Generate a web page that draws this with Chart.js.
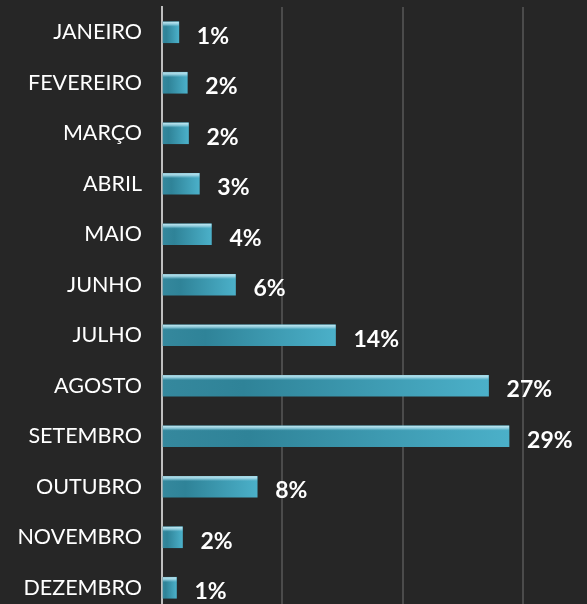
<!DOCTYPE html>
<html>
<head>
<meta charset="utf-8">
<script src="https://cdn.jsdelivr.net/npm/chart.js@4/dist/chart.umd.min.js"></script>
<style>
  html, body { margin: 0; padding: 0; background: #262626; overflow: hidden; }
  .chart { width: 587px; height: 614px; }
</style>
</head>
<body>
<div class="chart"><canvas id="c"></canvas></div>
<script>
const months = [
  "JANEIRO", "FEVEREIRO", "MARÇO", "ABRIL", "MAIO", "JUNHO",
  "JULHO", "AGOSTO", "SETEMBRO", "OUTUBRO", "NOVEMBRO", "DEZEMBRO",
]
const shares = [1.4, 2.1, 2.2, 3.1, 4.1, 6.1, 14.4, 27.1, 28.8, 7.9, 1.7, 1.2]
const xTicks = [0, 10, 20, 30]

const barGradient = (context) => {
  const chart = context.chart
  const xs = chart.scales.x
  if (!xs || context.parsed == null) return "#3b9ab2"
  const x0 = xs.getPixelForValue(0)
  const x1 = xs.getPixelForValue(context.parsed.x)
  if (!isFinite(x0) || !isFinite(x1) || x1 - x0 < 1) return "#3b9ab2"
  const g = chart.ctx.createLinearGradient(x0, 0, x1, 0)
  g.addColorStop(0, "#35889d")
  g.addColorStop(0.25, "#2f8398")
  g.addColorStop(1, "#4bb0c9")
  return g
}

// top highlight strip + value labels
const barExtras = {
  id: "barExtras",
  afterDatasetsDraw(chart) {
    const ctx = chart.ctx
    const meta = chart.getDatasetMeta(0)
    ctx.save()
    meta.data.forEach((bar, i) => {
      const top = bar.y - bar.height / 2
      const left = Math.min(bar.x, bar.base)
      const w = Math.abs(bar.x - bar.base)
      const hl = ctx.createLinearGradient(0, top, 0, top + 5)
      hl.addColorStop(0, "rgba(205,238,247,0.95)")
      hl.addColorStop(0.5, "rgba(160,215,230,0.8)")
      hl.addColorStop(1, "rgba(120,190,210,0)")
      ctx.fillStyle = hl
      ctx.fillRect(left, top, w, 5)

      ctx.fillStyle = "#ffffff"
      ctx.font = "bold 23px Lato"
      ctx.textBaseline = "middle"
      ctx.textAlign = "left"
      ctx.fillText(Math.round(shares[i]) + "%", bar.x + 18, bar.y + 4)
    })
    ctx.restore()
  },
}

const createChartBars = (ctx) => {
  const data = {
    labels: months,
    datasets: [
      {
        data: shares,
        backgroundColor: barGradient,
        borderWidth: 0,
        barThickness: 21,
      },
    ],
  }
  const options = {
    indexAxis: "y",
    responsive: true,
    maintainAspectRatio: false,
    animation: false,
    layout: {
      padding: { top: 7, right: 0, bottom: 1, left: 0 },
    },
    plugins: {
      legend: { display: false },
      tooltip: { enabled: false },
    },
    scales: {
      x: {
        min: 0,
        max: 35.27,
        afterBuildTicks: (axis) => {
          axis.ticks = xTicks.map((v) => ({ value: v }))
        },
        afterFit: (axis) => {
          axis.height = 0
          axis.paddingLeft = 0
          axis.paddingRight = 0
        },
        ticks: { display: false },
        grid: {
          color: "#4b4b4b",
          lineWidth: 2,
          drawTicks: false,
        },
        border: { display: false },
      },
      y: {
        afterFit: (axis) => {
          axis.width = 162
          axis.paddingTop = 0
          axis.paddingBottom = 0
        },
        grid: { display: false, drawTicks: false },
        border: { display: true, color: "#bfbfbf", width: 2 },
        ticks: {
          color: "#ffffff",
          padding: 20,
          font: { family: "Lato", size: 21.5 },
        },
      },
    },
  }
  return new Chart(ctx, {
    type: "bar",
    data: data,
    options: options,
    plugins: [barExtras],
  })
}

document.addEventListener("DOMContentLoaded", () => {
  const canvas = document.getElementById("c")
  createChartBars(canvas.getContext("2d"))
})
</script>
</body>
</html>
